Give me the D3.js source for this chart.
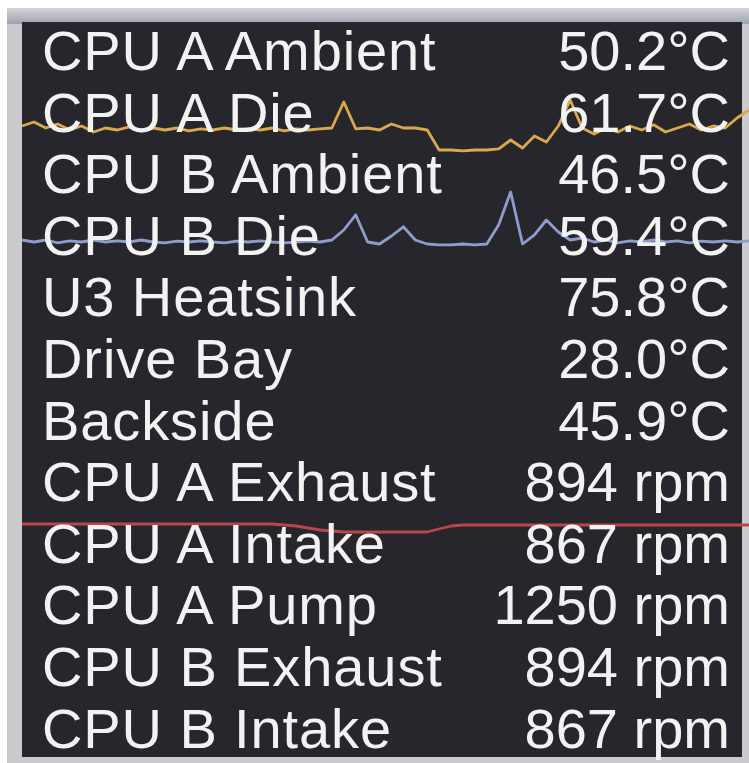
<!DOCTYPE html>
<html>
<head>
<meta charset="utf-8">
<script src="https://cdn.jsdelivr.net/npm/d3@7"></script>
<style>
  body { margin: 0; background: #ffffff; }
  svg { display: block; }
</style>
</head>
<body>
<script>
var w = 749; // Width of the page
var h = 763; // Height of the page

// Sensor rows
var labels = ["CPU A Ambient", "CPU A Die", "CPU B Ambient", "CPU B Die", "U3 Heatsink", "Drive Bay",
              "Backside", "CPU A Exhaust", "CPU A Intake", "CPU A Pump", "CPU B Exhaust", "CPU B Intake"];
var readings = [50.2, 61.7, 46.5, 59.4, 75.8, 28.0, 45.9, 894, 867, 1250, 894, 867];
var units = ["°C", "°C", "°C", "°C", "°C", "°C", "°C", "rpm", "rpm", "rpm", "rpm", "rpm"];

// History for the three sparklines drawn behind the rows
var cpuADieHistory = [61.0, 62.0, 60.5, 61.5, 60.0, 61.0, 59.5, 60.5, 60.0, 60.8, 59.8, 60.5, 60.0, 60.5,
                      59.8, 60.3, 60.0, 60.5, 60.0, 60.3, 60.0, 60.5, 59.8, 60.3, 60.0, 60.3, 60.5, 67.0,
                      60.3, 60.5, 60.0, 61.5, 60.5, 60.5, 60.0, 55.0, 55.0, 54.8, 55.0, 55.0, 55.3, 57.5,
                      55.5, 58.5, 57.0, 61.0, 67.5, 60.5, 59.0, 60.5, 59.5, 61.0, 60.0, 61.3, 59.5, 60.5,
                      61.5, 60.0, 61.0, 60.5, 63.0, 65.0];
var cpuBDieHistory = [57.5, 57.0, 57.5, 56.8, 57.3, 57.0, 57.5, 57.0, 57.3, 57.0, 57.5, 57.0, 56.8, 57.2,
                      57.0, 57.3, 57.0, 56.8, 57.2, 57.0, 57.3, 57.0, 56.8, 57.0, 57.2, 57.0, 57.5, 60.0,
                      63.8, 57.0, 56.5, 58.5, 60.8, 57.5, 56.5, 56.3, 56.3, 56.5, 56.3, 56.5, 61.3, 69.5,
                      56.5, 58.8, 62.5, 59.5, 57.5, 58.0, 57.0, 57.5, 56.8, 57.3, 57.0, 57.5, 57.0, 57.3,
                      56.8, 57.2, 57.0, 57.3, 57.0, 57.3];
var cpuAIntakeHistory = [871, 871, 871, 871, 871, 871, 871, 871, 871, 871, 871, 871, 871, 871,
                         871, 871, 871, 871, 871, 871, 871, 871, 870, 869, 867, 865, 864, 863,
                         863, 863, 863, 863, 863, 863, 863, 866, 869, 870, 870, 870, 870, 870,
                         870, 870, 870, 870, 870, 870, 870, 870, 870, 870, 870, 870, 870, 870,
                         870, 870, 870, 870, 870, 870];

// Create SVG element
var svg = d3.select("body")
    .append("svg")
    .attr("width", w)
    .attr("height", h);

// Soft blur to match the screenshot look
var defs = svg.append("defs");
defs.append("filter")
    .attr("id", "soft")
    .append("feGaussianBlur")
    .attr("stdDeviation", 0.7);
var topGrad = defs.append("linearGradient")
    .attr("id", "topGrad")
    .attr("x1", 0).attr("y1", 0).attr("x2", 0).attr("y2", 1);
topGrad.append("stop").attr("offset", "0%").attr("stop-color", "#d4d6dc");
topGrad.append("stop").attr("offset", "100%").attr("stop-color", "#9ea2ab");

// Window frame
svg.append("rect")
    .attr("x", 7).attr("y", 8)
    .attr("width", w - 7).attr("height", h - 8)
    .attr("fill", "#cbcbcf");
svg.append("rect")
    .attr("x", 7).attr("y", 8)
    .attr("width", w - 7).attr("height", 16)
    .attr("fill", "url(#topGrad)");

// Dark panel
svg.append("rect")
    .attr("x", 22).attr("y", 22)
    .attr("width", 720).attr("height", 735)
    .attr("fill", "#27262c");

var g = svg.append("g").attr("filter", "url(#soft)");

// Row scale
var yScale = d3.scaleBand()
    .domain(labels)
    .range([22, 22 + 61.6 * labels.length]);

// Sparklines
var xScale = d3.scaleLinear()
    .domain([0, cpuADieHistory.length - 1])
    .range([22, w]);

var sparks = [
    { data: cpuADieHistory, y: d3.scaleLinear().domain([50, 70]).range([170, 90]), color: "#d8a94e" },
    { data: cpuBDieHistory, y: d3.scaleLinear().domain([50, 70]).range([270, 190]), color: "#8f9ccd" },
    { data: cpuAIntakeHistory, y: d3.scaleLinear().domain([850, 880]).range([545, 515]), color: "#b8474c" }
];

sparks.forEach(function(s) {
    var line = d3.line()
        .x(function(d, i) { return xScale(i); })
        .y(function(d) { return s.y(d); });
    g.append("path")
        .datum(s.data)
        .attr("d", line)
        .attr("fill", "none")
        .attr("stroke", s.color)
        .attr("stroke-width", 2.8)
        .attr("stroke-linejoin", "round");
});

// Labels on the left
g.selectAll("text.label")
    .data(labels)
    .join("text")
    .attr("class", "label")
    .attr("x", 42)
    .attr("y", function(d) { return yScale(d) + 48; })
    .attr("fill", "#f2f2f2")
    .attr("font-family", "'Liberation Sans', Arial, sans-serif")
    .attr("font-size", 56)
    .attr("letter-spacing", 0.9)
    .text(function(d) { return d; });

// Readings on the right
g.selectAll("text.value")
    .data(readings)
    .join("text")
    .attr("class", "value")
    .attr("x", 730)
    .attr("y", function(d, i) { return yScale(labels[i]) + 48; })
    .attr("text-anchor", "end")
    .attr("fill", "#f2f2f2")
    .attr("font-family", "'Liberation Sans', Arial, sans-serif")
    .attr("font-size", 56)
    .text(function(d, i) {
        return units[i] === "rpm" ? d + " rpm" : d.toFixed(1) + units[i];
    });
</script>
</body>
</html>
